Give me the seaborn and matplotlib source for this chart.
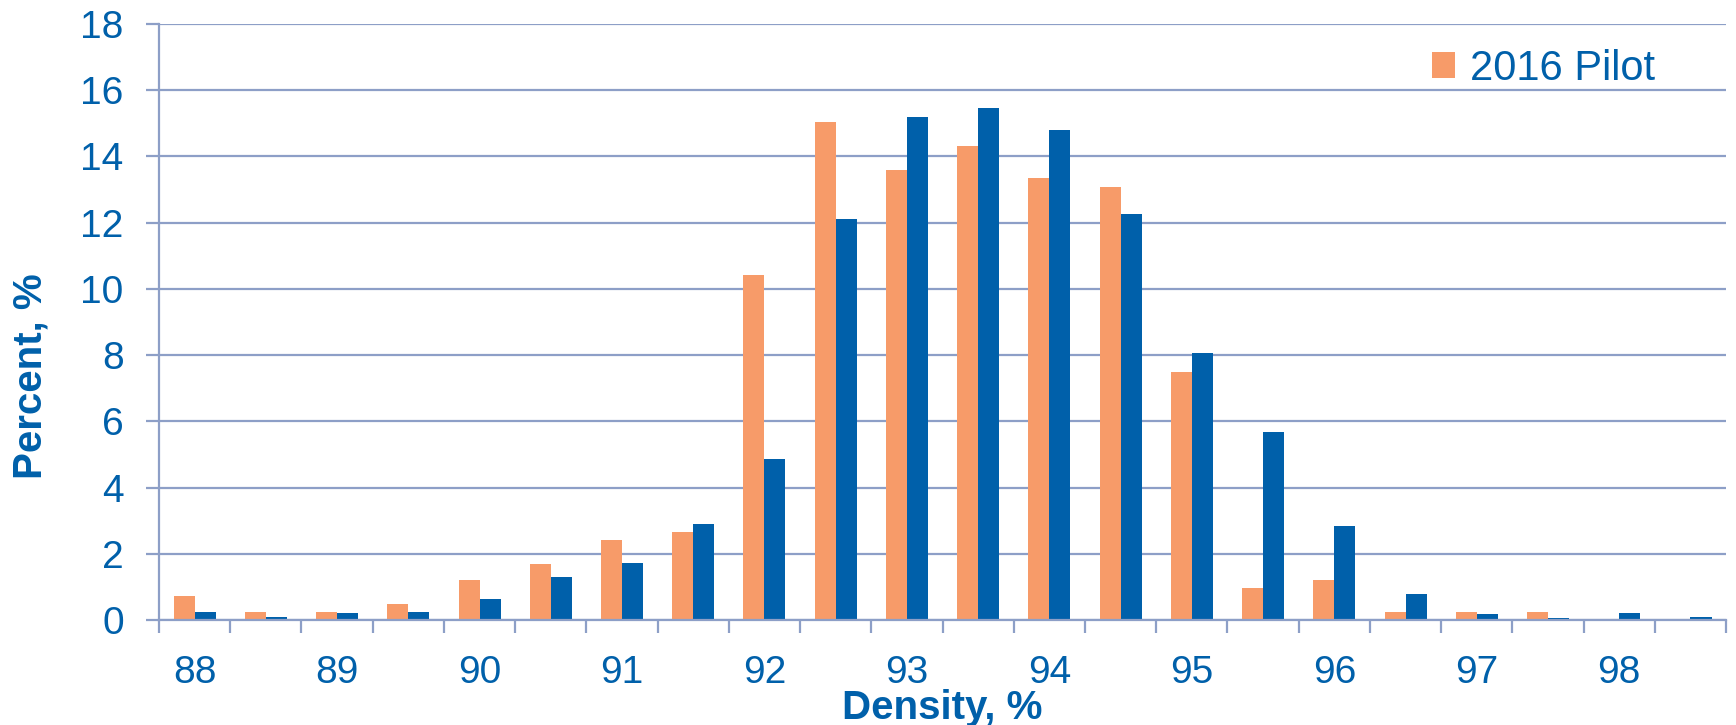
import pandas as pd
import matplotlib
matplotlib.use('Agg')
import matplotlib.pyplot as plt
import seaborn as sns
from matplotlib.patches import Patch

# densidad, % (cada medio punto)
densidad = ['88', '88.5', '89', '89.5', '90', '90.5', '91', '91.5', '92', '92.5', '93',
            '93.5', '94', '94.5', '95', '95.5', '96', '96.5', '97', '97.5', '98', '98.5']
piloto_2016 = [0.73, 0.24, 0.24, 0.49, 1.22, 1.70, 2.43, 2.66, 10.42, 15.05, 13.6,
               14.31, 13.35, 13.09, 7.5, 0.97, 1.22, 0.24, 0.24, 0.24, 0.0, 0.0]
otra_serie = [0.23, 0.08, 0.21, 0.23, 0.63, 1.29, 1.73, 2.9, 4.87, 12.1, 15.2,
              15.45, 14.8, 12.27, 8.05, 5.67, 2.83, 0.80, 0.17, 0.07, 0.2, 0.1]
etiquetas_x = ['88', '89', '90', '91', '92', '93', '94', '95', '96', '97', '98']
series = ['2016 Pilot', 'Otro']

AZUL = '#0060AA'
NARANJA = '#F79B69'
REJILLA = '#8D9FC7'

df = pd.DataFrame({
    'densidad': densidad * 2,
    'valor': piloto_2016 + otra_serie,
    'serie': [series[0]] * len(densidad) + [series[1]] * len(densidad),
})

sns.set_style('white')
plt.rcParams['font.family'] = ['Liberation Sans', 'DejaVu Sans']

fig = plt.figure(figsize=(17.36, 7.25), dpi=100)
ax = fig.add_axes([0.0916, 0.1448, 0.9027, 0.8221])

sns.barplot(data=df, x='densidad', y='valor', hue='serie', hue_order=series,
            order=densidad, palette=[NARANJA, AZUL], width=0.59, linewidth=0,
            saturation=1, ax=ax, legend=False)

ax.set_ylim(0, 18)
ax.set_xlim(-0.5, len(densidad) - 0.5)
ax.set_yticks(range(0, 19, 2))
ax.yaxis.grid(True, color=REJILLA, linewidth=1.6)
ax.set_axisbelow(True)

# etiquetas cada dos categorias, marcas en los limites de cada categoria
ax.set_xticks(range(0, len(densidad), 2))
ax.set_xticklabels(etiquetas_x)
ax.set_xticks([i - 0.5 for i in range(len(densidad) + 1)], minor=True)
ax.tick_params(axis='x', which='major', length=0, pad=25, labelsize=28, labelcolor=AZUL)
ax.tick_params(axis='x', which='minor', length=9.4, width=1.6, color=REJILLA, direction='out')
ax.tick_params(axis='y', which='major', length=9.4, width=1.6, color=REJILLA,
               direction='out', pad=16, labelsize=28, labelcolor=AZUL)
ax.tick_params(left=True, bottom=True)
ax.tick_params(axis='x', which='minor', bottom=True)

for lado in ['top', 'right']:
    ax.spines[lado].set_visible(False)
for lado in ['left', 'bottom']:
    ax.spines[lado].set_color(REJILLA)
    ax.spines[lado].set_linewidth(1.6)

ax.set_xlabel('Density, %', fontsize=29, fontweight='bold', color=AZUL)
ax.set_ylabel('Percent, %', fontsize=29, fontweight='bold', color=AZUL)
ax.xaxis.set_label_coords(0.5, -0.116)
ax.yaxis.set_label_coords(-0.082, 0.41)
ax.yaxis.label.set_verticalalignment('center')

ax.legend(handles=[Patch(facecolor=NARANJA, edgecolor='none')], labels=[series[0]],
          loc='center right', bbox_to_anchor=(0.965, 0.925), frameon=False,
          fontsize=30, labelcolor=AZUL, handlelength=0.55, handleheight=0.55,
          handletextpad=0.35, borderaxespad=0)

fig.savefig('out.png', dpi=100)
